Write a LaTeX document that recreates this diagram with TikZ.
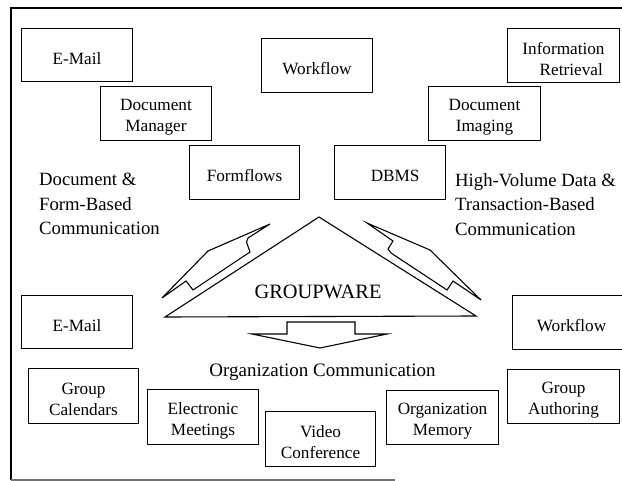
\documentclass[tikz,border=0pt]{standalone}
\usepackage{fontspec}
\setmainfont{Liberation Serif}
\begin{document}
\begin{tikzpicture}[x=1bp,y=-1bp,
  % the text sits a little below the middle of its frame
  box/.style={minimum width=110bp, minimum height=53bp,
    inner sep=0pt, align=center, font=\fontsize{17.2bp}{21bp}\selectfont,
    append after command={\pgfextra{\draw[line width=1.1bp]
      ([yshift=3.5bp]\tikzlastnode.south west) rectangle ([yshift=3.5bp]\tikzlastnode.north east);}}},
  lbl/.style={align=left, inner sep=0pt, anchor=north west,
    font=\fontsize{18.7bp}{24.5bp}\selectfont},
  shape line/.style={draw, line width=1.1bp, line join=miter},
  frame line/.style={line width=1.1bp}]
\useasboundingbox (0,0) rectangle (622,481);

% outer frame (open on the right)
\coordinate (ftr) at (622,8);
\coordinate (ftl) at (11,8);
\coordinate (fbl) at (11,480);
\coordinate (fbr) at (395,480);
\draw[frame line] (ftr) -- (ftl) -- (fbl);
\draw[frame line, black!55] (fbl) -- (fbr);

% upper left group (positions are frame centre + 3.5)
\node[box] (email1) at (77,58.5) {E-Mail};
\node[box] (docman) at (156,117) {Document\\Manager};
\node[box, minimum width=109bp] (formflows) at (244.5,176) {Formflows};
% upper middle / right group
\node[box] (workflow1) at (317,69) {Workflow};
\node[box, minimum width=111bp] (inforet) at (563.5,59) {Information\\\hspace*{0.9em}Retrieval};
\node[box, minimum width=111bp] (docimg) at (484.5,117) {Document\\Imaging};
\node[box] (dbms) at (390,176) {\hspace*{0.6em}DBMS};

% side labels
\node[lbl] (leftlbl) at (39,173) {Document \&\\Form-Based\\Communication};
\node[lbl] (rightlbl) at (455,173) {High-Volume Data \&\\Transaction-Based\\Communication};

% central triangle
\coordinate (apex) at (319,217);
\coordinate (bl) at (165,317);
\coordinate (br) at (476,316);
\draw[shape line] (apex) -- (bl) -- (br) -- cycle;
\node[inner sep=0pt, font=\fontsize{20.4bp}{24bp}\selectfont] (gw) at (318,292) {GROUPWARE};

% left lightning double arrow
\draw[shape line] (162,298) -- (208,251) -- (270,224) -- (248,238) -- (246.5,242)
  -- (250,252) -- (193,290) -- (186,281) -- cycle;
% right lightning double arrow
\draw[shape line] (367,223) -- (430,250) -- (481,300) -- (453,281) -- (447,290)
  -- (391,253) -- (388,249) -- (393,241) -- cycle;

% downward block arrow
\draw[shape line] (287,322) -- (355,322) -- (355,334) -- (387,334) -- (320,348)
  -- (252,334) -- (287,334) -- cycle;

\node[inner sep=0pt, font=\fontsize{19bp}{23bp}\selectfont] (orgcomm) at (322.5,372) {Organization Communication};

% lower group
\node[box, minimum height=52bp] (email2) at (77,325.5) {E-Mail};
\node[box, minimum width=117bp] (workflow2) at (571.5,326) {Workflow};
\node[box, minimum width=109bp, minimum height=54bp] (groupcal) at (83.5,399.5) {Group\\Calendars};
\node[box, minimum height=54bp] (elecmeet) at (203,420.5) {Electronic\\Meetings};
\node[box, minimum width=109bp, minimum height=54bp] (video) at (320.5,442.5) {Video\\Conference};
\node[box, minimum width=111bp] (orgmem) at (442.5,421) {Organization\\Memory};
\node[box, minimum width=111bp] (groupauth) at (563.5,400) {Group\\Authoring};
\end{tikzpicture}
\end{document}
